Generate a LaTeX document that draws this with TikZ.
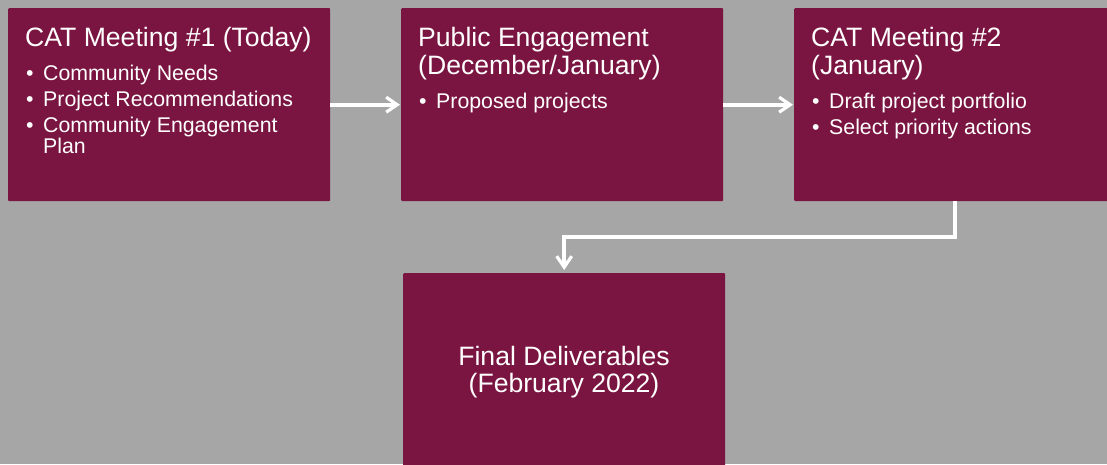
\documentclass[tikz,border=0pt]{standalone}
\usepackage{fontspec}
\setmainfont{Liberation Sans}
\usetikzlibrary{arrows.meta}
\definecolor{bgGray}{HTML}{A6A6A6}
\definecolor{boxMaroon}{HTML}{7A1541}
\begin{document}
\begin{tikzpicture}[x=1pt,y=-1pt,
  box/.style={fill=boxMaroon, draw=none, minimum width=322pt, minimum height=193pt, inner sep=0pt, anchor=north west, rounded corners=1pt},
  ttl/.style={anchor=base west, text=white, inner sep=0pt, font=\fontsize{26.6}{28}\selectfont},
  ctr/.style={anchor=base, text=white, inner sep=0pt, font=\fontsize{26.6}{28}\selectfont},
  itm/.style={anchor=base west, text=white, inner sep=0pt, font=\fontsize{21.3}{24}\selectfont},
  flow/.style={draw=white, line width=4pt, -{Straight Barb[length=11pt,width=15pt,line width=3.2pt]}}]
\fill[bgGray] (0,0) rectangle (1107,464);
\useasboundingbox (0,0) rectangle (1107,464);
\clip (0,0) rectangle (1107,464);

% boxes
\node[box] (b1) at (8,8) {};
\node[box] (b2) at (401,8) {};
\node[box] (b3) at (794,8) {};
\node[box] (b4) at (403,273) {};

% box 1 text
\node[ttl] (t1) at (25,46) {CAT Meeting \#1 (Today)};
\node[itm] (b1d1) at (26,80) {•};
\node[itm] (b1i1) at (43,80) {Community Needs};
\node[itm] (b1d2) at (26,106) {•};
\node[itm] (b1i2) at (43,106) {Project Recommendations};
\node[itm] (b1d3) at (26,132) {•};
\node[itm] (b1i3) at (43,132) {Community Engagement};
\node[itm] (b1i4) at (43,153) {Plan};

% box 2 text
\node[ttl] (t2a) at (418,46) {Public Engagement};
\node[ttl] (t2b) at (418,74) {(December/January)};
\node[itm] (b2d1) at (419,108) {•};
\node[itm] (b2i1) at (436,108) {Proposed projects};

% box 3 text
\node[ttl] (t3a) at (811,46) {CAT Meeting \#2};
\node[ttl] (t3b) at (811,74) {(January)};
\node[itm] (b3d1) at (812,108) {•};
\node[itm] (b3i1) at (829,108) {Draft project portfolio};
\node[itm] (b3d2) at (812,134) {•};
\node[itm] (b3i2) at (829,134) {Select priority actions};

% box 4 text
\node[ctr] (t4a) at (564,365) {Final Deliverables};
\node[ctr] (t4b) at (564,392) {(February 2022)};

% connectors
\draw[flow] (b1.east) -- ([xshift=-1pt]b2.west);
\draw[flow] (b2.east) -- ([xshift=-1pt]b3.west);
\draw[flow] (b3.south) -- ++(0,36) -| ([yshift=3pt]b4.north);
\end{tikzpicture}
\end{document}
